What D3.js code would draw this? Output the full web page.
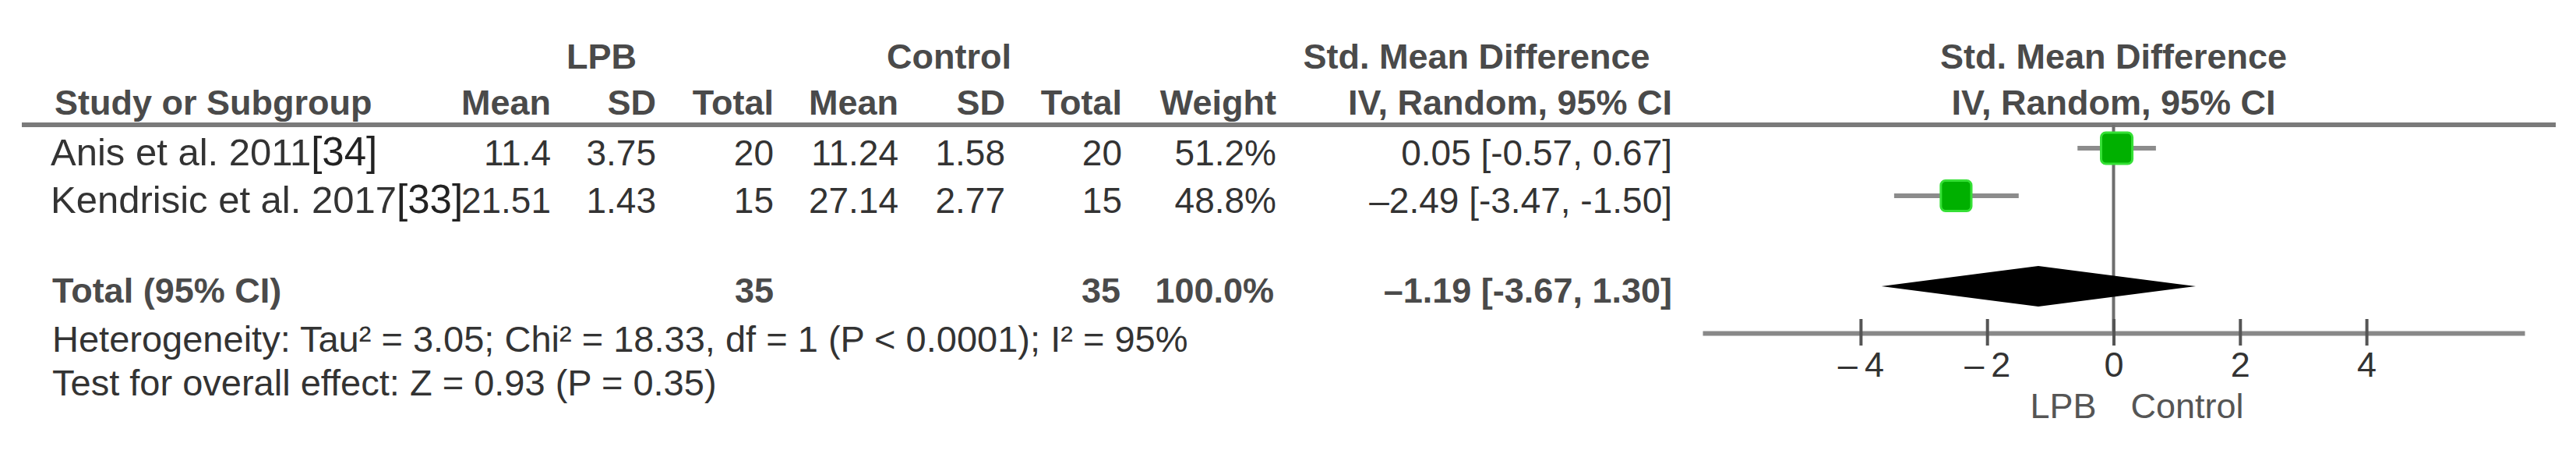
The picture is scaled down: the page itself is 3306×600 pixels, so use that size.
<!DOCTYPE html>
<html>
<head>
<meta charset="utf-8">
<script src="https://cdn.jsdelivr.net/npm/d3@7"></script>
<style>
  body { margin: 0; background: #fff; }
  text { font-family: "Liberation Sans", Arial, sans-serif; fill: #333; }
  .hdr { font-weight: bold; fill: #4a4a4a; }
</style>
</head>
<body>
<div id="chart"></div>
<script>
const width = 3306;
const height = 600;

// study data
const studies = ["Anis et al. 2011", "Kendrisic et al. 2017"];
const refs = ["[34]", "[33]"];
const lpbMean = [11.4, 21.51];
const lpbSD = [3.75, 1.43];
const lpbTotal = [20, 15];
const ctlMean = [11.24, 27.14];
const ctlSD = [1.58, 2.77];
const ctlTotal = [20, 15];
const weights = [51.2, 48.8];
const smd = [0.05, -2.49];
const ciLow = [-0.57, -3.47];
const ciHigh = [0.67, -1.50];

// pooled
const totalLpb = 35;
const totalCtl = 35;
const totalWeight = 100.0;
const pooled = [-1.19, -3.67, 1.30];
const heterogeneity = "Heterogeneity: Tau\u00b2 = 3.05; Chi\u00b2 = 18.33, df = 1 (P < 0.0001); I\u00b2 = 95%";
const overallTest = "Test for overall effect: Z = 0.93 (P = 0.35)";

const tickValues = [-4, -2, 0, 2, 4];
const xDomain = [-6.5, 6.5];

// layout
const rowY = [190, 251];
const totalY = 367;
const axisY = 427;
const lineY = 160;
const cols = {mean1: 707, sd1: 842, tot1: 993, mean2: 1153, sd2: 1290, tot2: 1440, weight: 1638, ci: 2146};

var xScale = d3.scaleLinear().domain(xDomain).range([2185, 3240]);
var boxSize = d3.scaleSqrt().domain([0, 100]).range([0, 56]);

var svg = d3.select("#chart").append("svg")
    .attr("width", width)
    .attr("height", height);

svg.append("rect").attr("width", width).attr("height", height).attr("fill", "#fff");

function fmt(v) {
    // RevMan style minus for the estimate
    return v < 0 ? "\u2013" + Math.abs(v).toFixed(2) : v.toFixed(2);
}

function drawHeader() {
    var h1 = 88, h2 = 147;
    function hdr(x, y, t, anchor) {
        svg.append("text").attr("class", "hdr")
            .attr("x", x).attr("y", y)
            .attr("text-anchor", anchor)
            .style("font-size", "45px")
            .text(t);
    }
    hdr(772, h1, "LPB", "middle");
    hdr(1218, h1, "Control", "middle");
    hdr(1895, h1, "Std. Mean Difference", "middle");
    hdr(xScale(0), h1, "Std. Mean Difference", "middle");

    hdr(70, h2, "Study or Subgroup", "start");
    hdr(cols.mean1, h2, "Mean", "end");
    hdr(cols.sd1, h2, "SD", "end");
    hdr(cols.tot1, h2, "Total", "end");
    hdr(cols.mean2, h2, "Mean", "end");
    hdr(cols.sd2, h2, "SD", "end");
    hdr(cols.tot2, h2, "Total", "end");
    hdr(cols.weight, h2, "Weight", "end");
    hdr(cols.ci, h2, "IV, Random, 95% CI", "end");
    hdr(xScale(0), h2, "IV, Random, 95% CI", "middle");

    svg.append("line")
        .attr("x1", 28).attr("x2", 3280)
        .attr("y1", lineY).attr("y2", lineY)
        .attr("stroke", "#7a7a7a")
        .attr("stroke-width", 6);
}

function drawRows() {
    studies.forEach(function (s, i) {
        var base = rowY[i] + 22;
        var t = svg.append("text").attr("x", 65).attr("y", base).style("font-size", "49px");
        t.append("tspan").text(s);
        t.append("tspan").style("font-size", "51px").style("fill", "#222").text(refs[i]);

        var cells = [
            [cols.mean1, String(lpbMean[i])],
            [cols.sd1, String(lpbSD[i])],
            [cols.tot1, String(lpbTotal[i])],
            [cols.mean2, String(ctlMean[i])],
            [cols.sd2, String(ctlSD[i])],
            [cols.tot2, String(ctlTotal[i])],
            [cols.weight, weights[i].toFixed(1) + "%"],
            [cols.ci, fmt(smd[i]) + " [" + ciLow[i].toFixed(2) + ", " + ciHigh[i].toFixed(2) + "]"]
        ];
        svg.selectAll(null).data(cells).enter().append("text")
            .attr("x", function (d) { return d[0]; })
            .attr("y", base)
            .attr("text-anchor", "end")
            .style("font-size", "46px")
            .text(function (d) { return d[1]; });
    });

    // total row
    var tb = totalY + 21;
    var tcells = [
        [67, "Total (95% CI)", "start"],
        [cols.tot1, String(totalLpb), "end"],
        [cols.tot2 - 2, String(totalCtl), "end"],
        [cols.weight - 3, totalWeight.toFixed(1) + "%", "end"],
        [cols.ci, fmt(pooled[0]) + " [" + pooled[1].toFixed(2) + ", " + pooled[2].toFixed(2) + "]", "end"]
    ];
    svg.selectAll(null).data(tcells).enter().append("text")
        .attr("class", "hdr")
        .attr("x", function (d) { return d[0]; })
        .attr("y", tb)
        .attr("text-anchor", function (d) { return d[2]; })
        .style("font-size", "45px")
        .text(function (d) { return d[1]; });

    svg.append("text").attr("x", 67).attr("y", 451).style("font-size", "47px").text(heterogeneity);
    svg.append("text").attr("x", 67).attr("y", 507).style("font-size", "47px").text(overallTest);
}

function drawForest() {
    // line of no effect
    svg.append("line")
        .attr("x1", xScale(0)).attr("x2", xScale(0))
        .attr("y1", lineY).attr("y2", axisY)
        .attr("stroke", "#6e6e6e")
        .attr("stroke-width", 4);

    // confidence intervals
    svg.selectAll(".ci").data(studies).enter().append("line")
        .attr("class", "ci")
        .attr("x1", function (d, i) { return xScale(ciLow[i]); })
        .attr("x2", function (d, i) { return xScale(ciHigh[i]); })
        .attr("y1", function (d, i) { return rowY[i]; })
        .attr("y2", function (d, i) { return rowY[i]; })
        .attr("stroke", "#8c8c8c")
        .attr("stroke-width", 6);

    // weighted boxes
    svg.selectAll(".box").data(studies).enter().append("rect")
        .attr("class", "box")
        .attr("x", function (d, i) { return xScale(smd[i]) - boxSize(weights[i]) / 2; })
        .attr("y", function (d, i) { return rowY[i] - boxSize(weights[i]) / 2; })
        .attr("width", function (d, i) { return boxSize(weights[i]); })
        .attr("height", function (d, i) { return boxSize(weights[i]); })
        .attr("rx", 6)
        .attr("fill", "#00b000")
        .attr("stroke", "#35e035")
        .attr("stroke-width", 3);

    // pooled diamond
    var dh = 26;
    svg.append("path")
        .attr("d", "M" + xScale(pooled[1]) + "," + totalY +
            "L" + xScale(pooled[0]) + "," + (totalY - dh) +
            "L" + xScale(pooled[2]) + "," + totalY +
            "L" + xScale(pooled[0]) + "," + (totalY + dh) + "Z")
        .attr("fill", "#000");

    // axis
    var xAxis = d3.axisBottom(xScale)
        .tickValues(tickValues)
        .tickSizeInner(16)
        .tickSizeOuter(0)
        .tickFormat(function (d) { return d < 0 ? "\u2013\u2009" + Math.abs(d) : String(d); });

    var g = svg.append("g")
        .attr("transform", "translate(0," + axisY + ")")
        .call(xAxis);
    g.select(".domain").attr("stroke", "#888").attr("stroke-width", 6);
    g.selectAll(".tick line").attr("y1", -18).attr("stroke", "#555").attr("stroke-width", 4);
    g.selectAll(".tick text")
        .attr("y", 56).attr("dy", null)
        .style("font-size", "45px")
        .style("font-family", "'Liberation Sans', Arial, sans-serif")
        .attr("fill", "#333");

    svg.append("text").attr("x", xScale(0) - 22).attr("y", 536)
        .attr("text-anchor", "end").style("font-size", "45px").style("fill", "#555").text("LPB");
    svg.append("text").attr("x", xScale(0) + 22).attr("y", 536)
        .attr("text-anchor", "start").style("font-size", "45px").style("fill", "#555").text("Control");
}

drawHeader();
drawRows();
drawForest();
</script>
</body>
</html>
